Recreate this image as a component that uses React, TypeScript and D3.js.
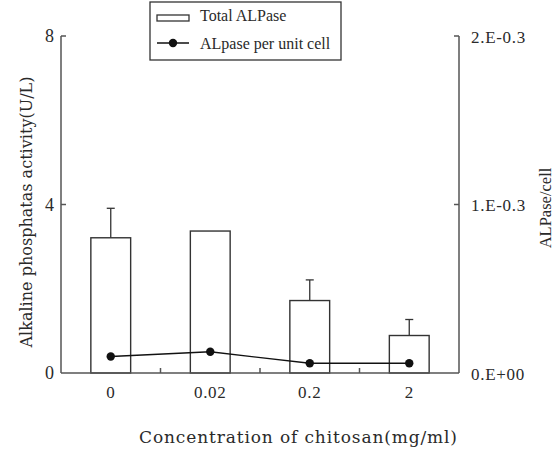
import React from "react";
import * as d3 from "d3";

const categories = ["0", "0.02", "0.2", "2"];
const totalALPase = [3.21, 3.37, 1.72, 0.89];
const totalErr = [0.7, 0, 0.49, 0.38];
const perCell = [0.098e-3, 0.126e-3, 0.058e-3, 0.058e-3];
const leftTicks = [0, 4, 8];
const rightTicks = [0, 1e-3, 2e-3];
const rightTickLabels = ["0.E+00", "1.E-0.3", "2.E-0.3"];

const W = 558;
const H = 449;
const left = 61;
const right = 459;
const top = 36;
const bottom = 373;
const SERIF = "'Liberation Serif', 'Times New Roman', serif";
const WIDE = "'DejaVu Serif', 'Liberation Serif', serif";
const AX = "#555";
const TXT = "#2a2a2a";

export default function App() {
  const x = d3
    .scaleBand<string>()
    .domain(categories)
    .range([left, right])
    .paddingInner(0.6)
    .paddingOuter(0.3);
  const yL = d3.scaleLinear().domain([0, 8]).range([bottom, top]);
  const yR = d3.scaleLinear().domain([0, 2e-3]).range([bottom, top]);
  const step = x.step();
  const cx = (c: string) => (x(c) as number) + x.bandwidth() / 2;

  const line = d3
    .line<number>()
    .x((_, i) => cx(categories[i]))
    .y((d) => yR(d));

  const boundaries = categories.slice(1).map((c) => (x(c) as number) - (step - x.bandwidth()) / 2);

  return (
    <svg
      width={W}
      height={H}
      style={{ position: "absolute", left: 0, top: 0, background: "#fff", fontFamily: SERIF }}
    >
      <rect x={0} y={0} width={W} height={H} fill="#fff" />
      {/* bars */}
      {categories.map((c, i) => (
        <rect
          key={"b" + c}
          x={x(c)}
          y={yL(totalALPase[i])}
          width={x.bandwidth()}
          height={bottom - yL(totalALPase[i])}
          fill="#fff"
          stroke="#333"
          strokeWidth={1.4}
        />
      ))}
      {/* error bars */}
      {categories.map((c, i) =>
        totalErr[i] > 0 ? (
          <g key={"e" + c} stroke="#333" strokeWidth={1.3}>
            <line x1={cx(c)} x2={cx(c)} y1={yL(totalALPase[i])} y2={yL(totalALPase[i] + totalErr[i])} />
            <line
              x1={cx(c) - 4}
              x2={cx(c) + 4}
              y1={yL(totalALPase[i] + totalErr[i])}
              y2={yL(totalALPase[i] + totalErr[i])}
            />
          </g>
        ) : null
      )}
      {/* axes */}
      <g stroke={AX} strokeWidth={1.5} fill="none">
        <line x1={left} x2={left} y1={top} y2={bottom} />
        <line x1={right} x2={right} y1={top} y2={bottom} />
        <line x1={left} x2={right} y1={bottom} y2={bottom} />
        {leftTicks.slice(1).map((t) => (
          <line key={"lt" + t} x1={left} x2={left + 5} y1={yL(t)} y2={yL(t)} />
        ))}
        {rightTicks.slice(1).map((t) => (
          <line key={"rt" + t} x1={right} x2={right - 5} y1={yR(t)} y2={yR(t)} />
        ))}
        {boundaries.map((b, i) => (
          <line key={"bt" + i} x1={b} x2={b} y1={bottom} y2={bottom - 5} />
        ))}
      </g>
      {/* line series */}
      <path d={line(perCell) || ""} fill="none" stroke="#111" strokeWidth={1.3} />
      {perCell.map((v, i) => (
        <circle key={"p" + i} cx={cx(categories[i])} cy={yR(v)} r={4.2} fill="#111" />
      ))}
      {/* left tick labels */}
      {leftTicks.map((t) => (
        <text key={"ll" + t} x={left - 7} y={yL(t)} dy="0.35em" textAnchor="end" fontSize={18} fill={TXT}>
          {t}
        </text>
      ))}
      {/* right tick labels */}
      {rightTicks.map((t, i) => (
        <text
          key={"rl" + t}
          x={right + 12}
          y={yR(t) + 1}
          dy="0.35em"
          textAnchor="start"
          fontSize={17}
          letterSpacing={0.7}
          fill={TXT}
        >
          {rightTickLabels[i]}
        </text>
      ))}
      {/* x tick labels */}
      {categories.map((c) => (
        <text
          key={"xl" + c}
          x={cx(c)}
          y={bottom + 25}
          textAnchor="middle"
          fontSize={17}
          letterSpacing={0.7}
          fill={TXT}
        >
          {c}
        </text>
      ))}
      {/* axis titles */}
      <text
        x={298}
        y={443}
        textAnchor="middle"
        fontSize={17}
        fontFamily={WIDE}
        fill={TXT}
        textLength={318}
        lengthAdjust="spacing"
      >
        Concentration of chitosan(mg/ml)
      </text>
      <text
        transform={`translate(32,${212}) rotate(-90)`}
        textAnchor="middle"
        fontSize={16}
        fontFamily={WIDE}
        fill={TXT}
        textLength={271}
        lengthAdjust="spacing"
      >
        Alkaline phosphatas activity(U/L)
      </text>
      <text transform={`translate(551,${208}) rotate(-90)`} textAnchor="middle" fontSize={16.5} fill={TXT}>
        ALPase/cell
      </text>
      {/* legend */}
      <rect x={150} y={2} width={191} height={58} fill="#fff" stroke="#333" strokeWidth={1.3} />
      <rect x={157} y={15} width={32} height={6} fill="#fff" stroke="#333" strokeWidth={1.3} />
      <text x={200} y={21} fontSize={16} fill={TXT}>
        Total ALPase
      </text>
      <line x1={157} x2={189} y1={43} y2={43} stroke="#111" strokeWidth={1.5} />
      <circle cx={173} cy={43} r={4.2} fill="#111" />
      <text x={200} y={49} fontSize={16} fill={TXT}>
        ALpase per unit cell
      </text>
    </svg>
  );
}
